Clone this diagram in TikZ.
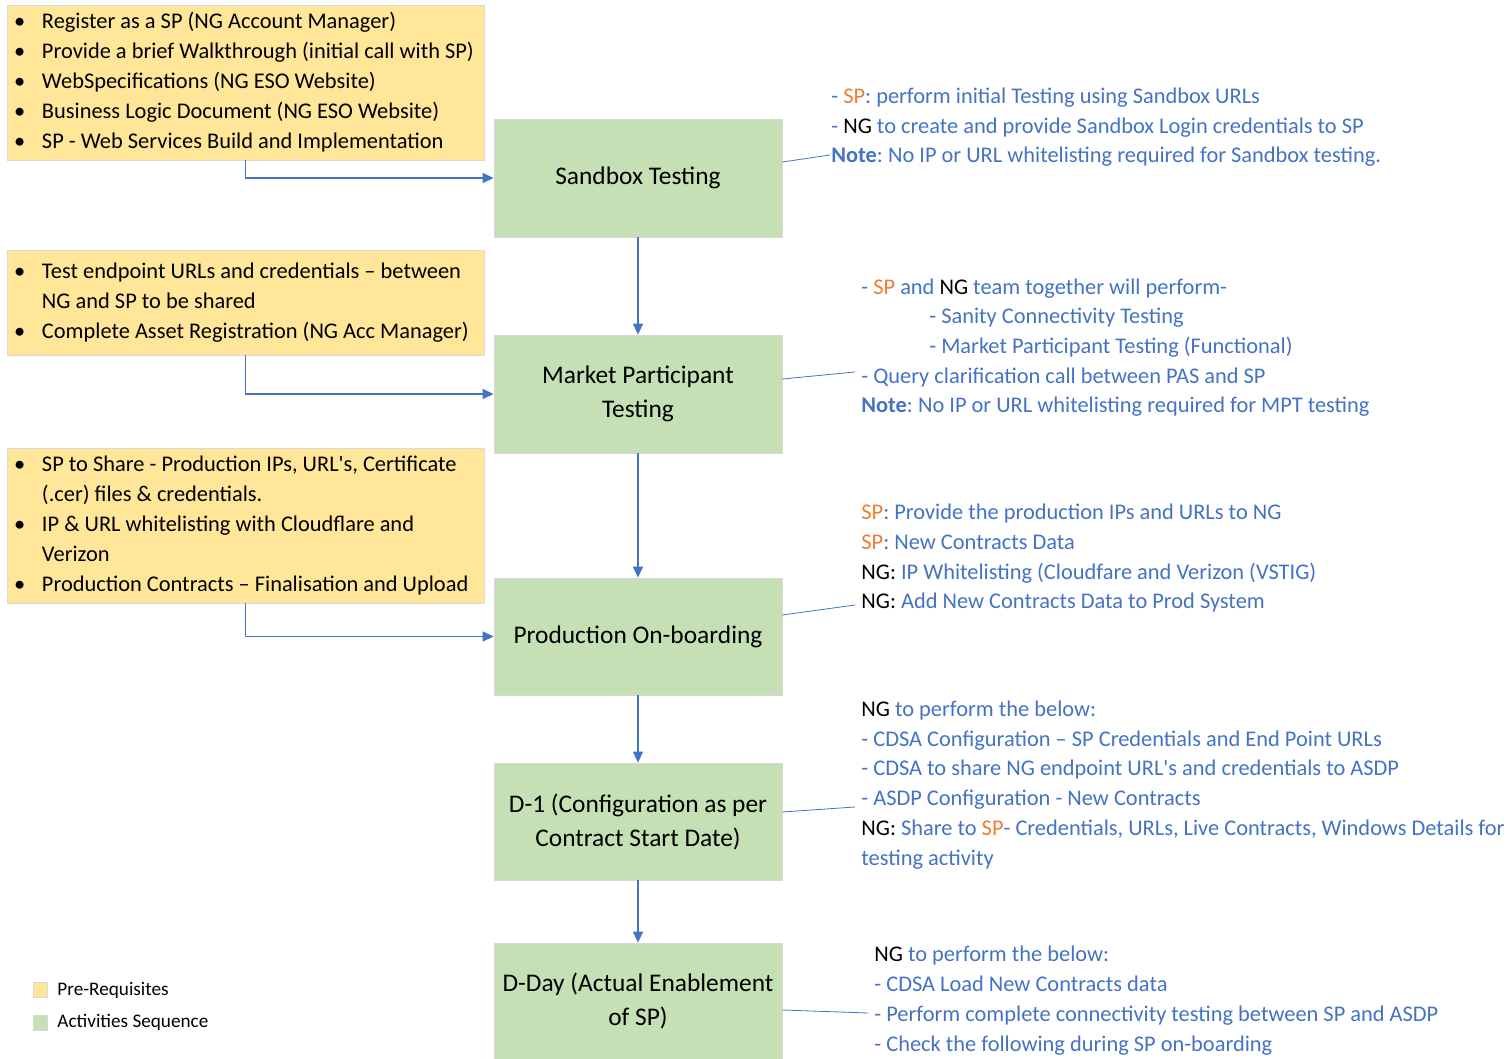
\documentclass[tikz,border=0pt]{standalone}
\usepackage{fontspec}
\setmainfont{Carlito}
\usetikzlibrary{arrows.meta, positioning}
\definecolor{prefill}{HTML}{FFE699}
\definecolor{actfill}{HTML}{C5E0B4}
\definecolor{edgegray}{HTML}{D9D9D9}
\definecolor{ngblue}{HTML}{4472C4}
\definecolor{sporange}{HTML}{ED7D31}
\newcommand{\spo}[1]{\textcolor{sporange}{#1}}
\newcommand{\ngk}[1]{\textcolor{black}{#1}}
\newcommand{\itm}{\hspace*{2pt}\makebox[14pt][l]{\textbullet}}
\newcommand{\gap}{\hspace*{16pt}}
\newcommand{\apos}{\textquotesingle}
\frenchspacing

\begin{document}
\begin{tikzpicture}[x=0.5pt, y=-0.5pt,
    prereq/.style = {rectangle, draw=edgegray, fill=prefill, inner xsep=1.5pt, text width=235.5pt, align=flush left, font=\fontsize{11.2}{15}\selectfont},
    activity/.style = {rectangle, draw=edgegray, fill=actfill, minimum width=144pt, align=center, font=\fontsize{12.7}{17}\selectfont},
    arrow/.style = {-{Triangle[length=5.5pt, width=5pt]}, draw=ngblue, line width=0.65pt},
    link/.style = {draw=ngblue, line width=0.4pt},
    note/.style = {anchor=base west, inner sep=0pt, align=left, text=ngblue, font=\fontsize{11.2}{14.85}\selectfont},
    key/.style = {rectangle, draw=edgegray, minimum width=7pt, minimum height=7.5pt, inner sep=0pt},
    keytext/.style = {anchor=west, inner sep=0pt, font=\fontsize{9.6}{11}\selectfont}
]
\useasboundingbox (0,0) rectangle (1512,1059);

% Activities sequence
\node[activity, minimum height=59pt] (sandbox) at (638,178) {Sandbox Testing};
\node[activity, minimum height=59pt] (mpt) at (638,394) {Market Participant\\Testing};
\node[activity, minimum height=58.5pt] (prod) at (638,636.5) {Production On-boarding};
\node[activity, minimum height=58.5pt] (dminus) at (638,821.5) {D-1 (Configuration as per\\Contract Start Date)};
\node[activity, minimum height=58pt] (dday) at (638,1001) {D-Day (Actual Enablement\\of SP)};

\draw[arrow] (sandbox) -- (mpt);
\draw[arrow] (mpt) -- (prod);
\draw[arrow] (prod) -- (dminus);
\draw[arrow] (dminus) -- (dday);

% Pre-requisites
\node[prereq, minimum height=77.5pt] (pre1) at (245.5,82.5) {\itm Register as a SP (NG Account Manager)\\
  \itm Provide a brief Walkthrough (initial call with SP)\\
  \itm WebSpecifications (NG ESO Website)\\
  \itm Business Logic Document (NG ESO Website)\\
  \itm SP - Web Services Build and Implementation};
\node[prereq, minimum height=52.5pt] (pre2) at (245.5,302.5) {\itm Test endpoint URLs and credentials – between\\
  \gap NG and SP to be shared\\
  \itm Complete Asset Registration (NG Acc Manager)};
\node[prereq, minimum height=77.5pt] (pre3) at (245.5,525.5) {\itm SP to Share - Production IPs, URL\apos s, Certificate\\
  \gap (.cer) files \& credentials.\\
  \itm IP \& URL whitelisting with Cloudflare and\\
  \gap Verizon\\
  \itm Production Contracts – Finalisation and Upload};

\draw[arrow] (pre1.south) |- (sandbox.west);
\draw[arrow] (pre2.south) |- (mpt.west);
\draw[arrow] (pre3.south) |- (prod.west);

% Notes (anchored on the baseline of their last line)
\node[note] (note1) at (831,163) {- \spo{SP}: perform initial Testing using Sandbox URLs\\
  - \ngk{NG} to create and provide Sandbox Login credentials to SP\\
  \textbf{Note}: No IP or URL whitelisting required for Sandbox testing.};
\node[note] (note2) at (861,413) {- \spo{SP} and \ngk{NG} team together will perform-\\
  \hspace*{34pt}- Sanity Connectivity Testing\\
  \hspace*{34pt}- Market Participant Testing (Functional)\\
  - Query clarification call between PAS and SP\\
  \textbf{Note}: No IP or URL whitelisting required for MPT testing};
\node[note] (note3) at (861,609) {\spo{SP}: Provide the production IPs and URLs to NG\\
  \spo{SP}: New Contracts Data\\
  \ngk{NG:} IP Whitelisting (Cloudfare and Verizon (VSTIG)\\
  \ngk{NG:} Add New Contracts Data to Prod System};
\node[note] (note4) at (861,865) {\ngk{NG} to perform the below:\\
  - CDSA Configuration – SP Credentials and End Point URLs\\
  - CDSA to share NG endpoint URL\apos s and credentials to ASDP\\
  - ASDP Configuration - New Contracts\\
  \ngk{NG:} Share to \spo{SP}- Credentials, URLs, Live Contracts, Windows Details for\\
  testing activity};
\node[note] (note5) at (874,1051) {\ngk{NG} to perform the below:\\
  - CDSA Load New Contracts data\\
  - Perform complete connectivity testing between SP and ASDP\\
  - Check the following during SP on-boarding};

\coordinate (c1) at (830,155);
\coordinate (c2) at (855,372);
\coordinate (c3) at (855,605);
\coordinate (c4) at (855,807);
\coordinate (c5) at (868,1013);
\draw[link] ([yshift=8pt]sandbox.east) -- (c1);
\draw[link] ([yshift=7.5pt]mpt.east) -- (c2);
\draw[link] ([yshift=10.75pt]prod.east) -- (c3);
\draw[link] ([yshift=4.75pt]dminus.east) -- (c4);
\draw[link] ([yshift=-4.5pt]dday.east) -- (c5);

% Legend
\node[key, fill=prefill] (keypre) at (40,989.5) {};
\node[key, fill=actfill] (keyact) at (40,1022.5) {};
\node[keytext] (lblpre) at (57,990) {Pre-Requisites};
\node[keytext] (lblact) at (57,1022) {Activities Sequence};

\end{tikzpicture}
\end{document}
